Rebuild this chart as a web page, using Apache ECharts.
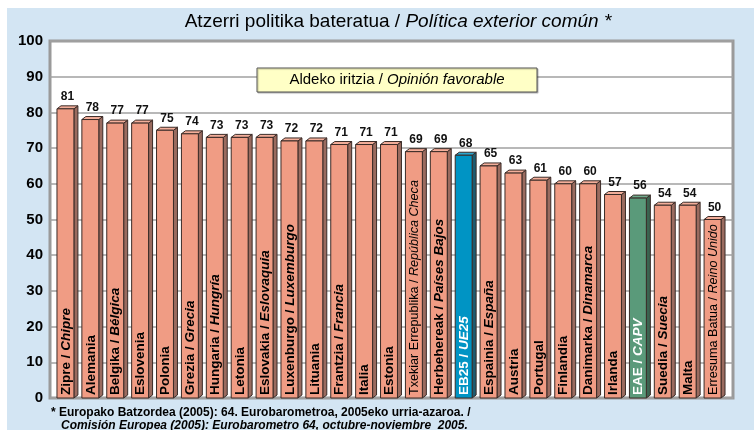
<!DOCTYPE html>
<html>
<head>
<meta charset="utf-8">
<script src="https://cdn.jsdelivr.net/npm/echarts@6/dist/echarts.min.js"></script>
<style>html,body{margin:0;padding:0;background:#fff}#c{width:754px;height:430px}</style>
</head>
<body>
<div id="c"></div>
<script>
// Data
const namesEu = ['Zipre','Alemania','Belgika','Eslovenia','Polonia','Grezia','Hungaria','Letonia','Eslovakia','Luxenburgo','Lituania','Frantzia','Italia','Estonia','Txekiar Errepublika','Herbehereak','EB25','Espainia','Austria','Portugal','Finlandia','Danimarka','Irlanda','EAE','Suedia','Malta','Erresuma Batua'];
const namesEs = ['Chipre','','Bélgica','','','Grecia','Hungría','','Eslovaquia','Luxemburgo','','Francia','','','República Checa','Países Bajos','UE25','España','','','','Dinamarca','','CAPV','Suecia','','Reino Unido'];
const values = [81,78,77,77,75,74,73,73,73,72,72,71,71,71,69,69,68,65,63,61,60,60,57,56,54,54,50];
const yTicks = [0,10,20,30,40,50,60,70,80,90,100];
const titleEu = 'Atzerri politika bateratua / ';
const titleEs = 'Política exterior común *';
const legendEu = 'Aldeko iritzia / ';
const legendEs = 'Opinión favorable';
const note1 = '* Europako Batzordea (2005): 64. Eurobarometroa, 2005eko urria-azaroa. /';
const note2 = 'Comisión Europea (2005): Eurobarometro 64, octubre-noviembre  2005.';

const FONT = '"Liberation Sans", Arial, sans-serif';
const chart = echarts.init(document.getElementById('c'), null, {renderer: 'canvas'});

function palette(name) {
  if (name === 'EB25') return {front: '#0094c4', side: '#1d5b70', top: '#2aa6cf', text: '#fff'};
  if (name === 'EAE') return {front: '#5a9a7a', side: '#3a6450', top: '#70ab8d', text: '#fff'};
  return {front: '#f09c84', side: '#9a6b5f', top: '#f3ae9a', text: '#000'};
}

function renderItem(params, api) {
  const i = api.value(0);
  const v = api.value(1);
  const top = api.coord([i, v]);
  const base = api.coord([i, 0]);
  const band = api.size([1, 0])[0];
  const w = band * 0.68, d = 4, dy = 3;
  const x0 = top[0] - (w + d) / 2;
  const ty = top[1], by = base[1];
  const c = palette(namesEu[i]);
  const stroke = '#3a2b27';
  const long = (namesEu[i] + namesEs[i]).length > 24;
  const fs = long ? 12.6 : 13.5;
  const fw = long ? 'normal' : 'bold';
  const txt = namesEs[i] ? '{n|' + namesEu[i] + ' / }{i|' + namesEs[i] + '}' : '{n|' + namesEu[i] + '}';
  return {
    type: 'group',
    children: [
      {type: 'polygon', shape: {points: [[x0 + w, ty], [x0 + w + d, ty - dy], [x0 + w + d, by - dy], [x0 + w, by]]},
        style: {fill: c.side, stroke: stroke, lineWidth: 1}},
      {type: 'polygon', shape: {points: [[x0, ty], [x0 + d, ty - dy], [x0 + w + d, ty - dy], [x0 + w, ty]]},
        style: {fill: c.top, stroke: stroke, lineWidth: 1}},
      {type: 'rect', shape: {x: x0, y: ty, width: w, height: by - ty},
        style: {fill: c.front, stroke: stroke, lineWidth: 1}},
      {type: 'text', x: x0 + w / 2 + 0.5, y: by - 3, rotation: Math.PI / 2,
        style: {text: txt, x: 0, y: 0, align: 'left', verticalAlign: 'middle',
          rich: {
            n: {fontFamily: FONT, fontSize: fs, fontWeight: fw, fill: c.text, color: c.text},
            i: {fontFamily: FONT, fontSize: fs, fontWeight: fw, fontStyle: 'italic', fill: c.text, color: c.text}
          }}},
      {type: 'text', x: x0 + (w + d) / 2, y: ty - dy - 3,
        style: {text: String(v), align: 'center', verticalAlign: 'bottom',
          font: 'bold 12px ' + FONT, fill: '#111'}}
    ]
  };
}

const option = {
  backgroundColor: '#ffffff',
  animation: false,
  graphic: [
    {type: 'rect', z: -100, shape: {x: 7, y: 8, width: 747, height: 422}, style: {fill: '#d3e5f3'}},
    {type: 'text', z: 10, x: 398, y: 22,
      style: {text: '{n|' + titleEu + '}{i|' + titleEs + '}', align: 'center', verticalAlign: 'middle',
        rich: {n: {fontFamily: FONT, fontSize: 19, fill: '#000', color: '#000'},
               i: {fontFamily: FONT, fontSize: 19, fontStyle: 'italic', fill: '#000', color: '#000'}}}},
    {type: 'rect', z: 10, shape: {x: 257, y: 68, width: 280, height: 24},
      style: {fill: '#ffffc6', stroke: '#555', lineWidth: 1, shadowColor: 'rgba(0,0,0,0.25)', shadowOffsetX: 1, shadowOffsetY: 1, shadowBlur: 1}},
    {type: 'text', z: 11, x: 397, y: 80,
      style: {text: '{n|' + legendEu + '}{i|' + legendEs + '}', align: 'center', verticalAlign: 'middle',
        rich: {n: {fontFamily: FONT, fontSize: 15, fill: '#000', color: '#000'},
               i: {fontFamily: FONT, fontSize: 15, fontStyle: 'italic', fill: '#000', color: '#000'}}}},
    {type: 'text', z: 10, x: 51, y: 413,
      style: {text: note1, align: 'left', verticalAlign: 'middle', font: 'bold 12px ' + FONT, fill: '#000'}},
    {type: 'text', z: 10, x: 61, y: 426,
      style: {text: note2, align: 'left', verticalAlign: 'middle', font: 'italic bold 12px ' + FONT, fill: '#000'}}
  ],
  grid: [
    {left: 50, right: 21, top: 41, bottom: 32, show: true, backgroundColor: '#fff', borderColor: '#9a9a9a', borderWidth: 3, z: 0},
    {left: 55, right: 27, top: 41, bottom: 32}
  ],
  xAxis: [
    {gridIndex: 0, type: 'value', min: 0, max: 1, show: false},
    {gridIndex: 1, type: 'category', data: namesEu, show: false}
  ],
  yAxis: [
    {gridIndex: 0, type: 'value', min: 0, max: 100, interval: 10,
      axisLine: {show: false}, axisTick: {show: false},
      axisLabel: {margin: 7, fontFamily: FONT, fontSize: 15, fontWeight: 'bold', color: '#000',
        formatter: function (v) { return yTicks.indexOf(v) >= 0 ? String(v) : ''; }},
      splitLine: {lineStyle: {color: '#a0a0a0', width: 1.5}}},
    {gridIndex: 1, type: 'value', min: 0, max: 100, interval: 10, show: false, splitLine: {show: false}}
  ],
  series: [{
    type: 'custom',
    xAxisIndex: 1, yAxisIndex: 1,
    renderItem: renderItem,
    clip: false,
    z: 5,
    encode: {x: 0, y: 1},
    data: values.map(function (v, i) { return [i, v]; })
  }]
};
chart.setOption(option);
</script>
</body>
</html>
